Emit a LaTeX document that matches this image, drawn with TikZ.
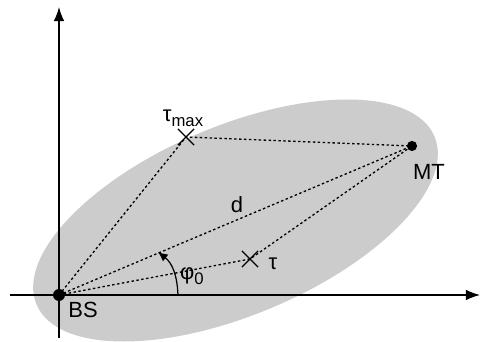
\documentclass[tikz,border=0pt]{standalone}
\usepackage{fontspec}
\setmainfont{Liberation Sans}
\usetikzlibrary{shapes.misc,arrows.meta}
\definecolor{ellgray}{RGB}{204,204,204}
\newcommand{\lowsub}[1]{\raisebox{-0.45ex}{\fontsize{9.5}{11}\selectfont #1}}
\begin{document}
\begin{tikzpicture}[x=0.02cm,y=0.02cm,font=\fontsize{12.5}{15}\selectfont,
  dot/.style={circle,fill=black,inner sep=0pt},
  xmark/.style={cross out,draw,line width=0.7pt,minimum size=8.5pt,inner sep=0pt},
  ray/.style={dash pattern=on 1.4pt off 1.4pt,line width=0.75pt}]
\useasboundingbox (0,0) rectangle (481,342);

% Streuellipse
\fill[ellgray,rotate around={22.9:(235.5,121.5)}] (235.5,121.5) ellipse (216 and 94.5);

% Achsen
\draw[-{Latex[length=8pt,width=6pt]},line width=0.7pt] (10,47) -- (480,47);
\draw[-{Latex[length=8pt,width=6pt]},line width=0.7pt] (59,4) -- (59,335);

\node[dot,minimum size=6.8pt] (bs) at (59,47) {};
\node[dot,minimum size=5.8pt] (mt) at (412,196) {};
\node[xmark] (tmax) at (186,205) {};
\node[xmark] (tau) at (250,83) {};

\draw[ray] (bs.center) -- (tmax.center) -- (mt.center);
\draw[ray] (bs.center) -- (tau.center) -- (mt.center);
\draw[ray] (bs.center) -- (mt.center);

\draw[-{Latex[length=5.5pt,width=5pt]},line width=0.7pt] (178,47) .. controls (177,68) and (172,79) .. (158,90);

\node at (237,137) {d};
\node at (192,66) {φ\lowsub{0}};
\node at (273,78) {τ};
\node at (183,224) {τ\lowsub{max}};
\node at (429,170) {MT};
\node at (83,32) {BS};
\end{tikzpicture}
\end{document}
